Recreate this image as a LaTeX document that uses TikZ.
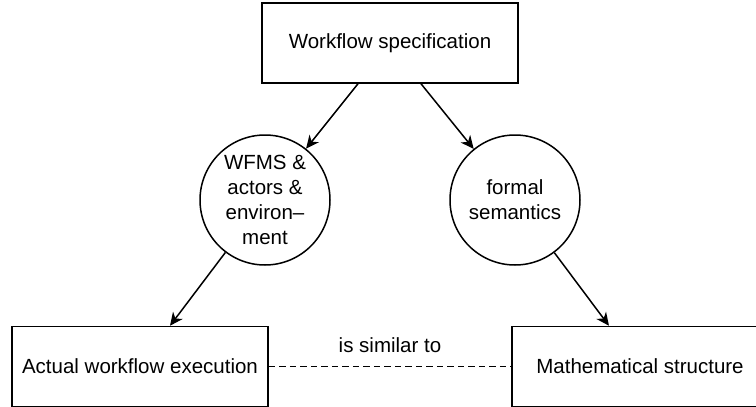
\documentclass[tikz,border=0pt]{standalone}
\usepackage{fontspec}
\setmainfont{Liberation Sans}
\usetikzlibrary{arrows.meta}
\begin{document}
\begin{tikzpicture}[x=1pt,y=-1pt,
  every node/.style={font=\fontsize{20.5}{25}\selectfont},
  box/.style={draw, line width=1.5pt, rectangle, minimum width=256pt, minimum height=80pt, inner sep=0pt},
  circ/.style={draw, line width=1.5pt, circle, minimum size=130pt, inner sep=0pt, align=center},
  arr/.style={line width=1.5pt, -{Stealth[length=13pt, width=12pt, inset=4pt]}},
  simline/.style={line width=1.5pt, dash pattern=on 6.5pt off 4pt}]
\useasboundingbox (0,0) rectangle (756,407);
\clip (0,0) rectangle (756,407);
\node[box] (spec) at (390,43) {Workflow specification};
\node[circ] (wfms) at (265,200) {WFMS \&\\actors \&\\environ–\\ment};
\node[circ] (sem) at (515,200) {formal\\semantics};
\node[box] (exec) at (140,366.5) {Actual workflow execution};
\node[box] (math) at (640,366.5) {Mathematical structure};
\coordinate (s1) at ([xshift=-32pt]spec.south);
\coordinate (s2) at ([xshift=31pt]spec.south);
\coordinate (e1) at ([xshift=30pt]exec.north);
\coordinate (m1) at ([xshift=-31pt]math.north);
\draw[arr] (s1) -- (wfms);
\draw[arr] (s2) -- (sem);
\draw[arr] (wfms) -- (e1);
\draw[arr] (sem) -- (m1);
\draw[simline] (exec.east) -- node[midway, yshift=21.5pt] (lbl) {is similar to} (math.west);
\end{tikzpicture}
\end{document}
